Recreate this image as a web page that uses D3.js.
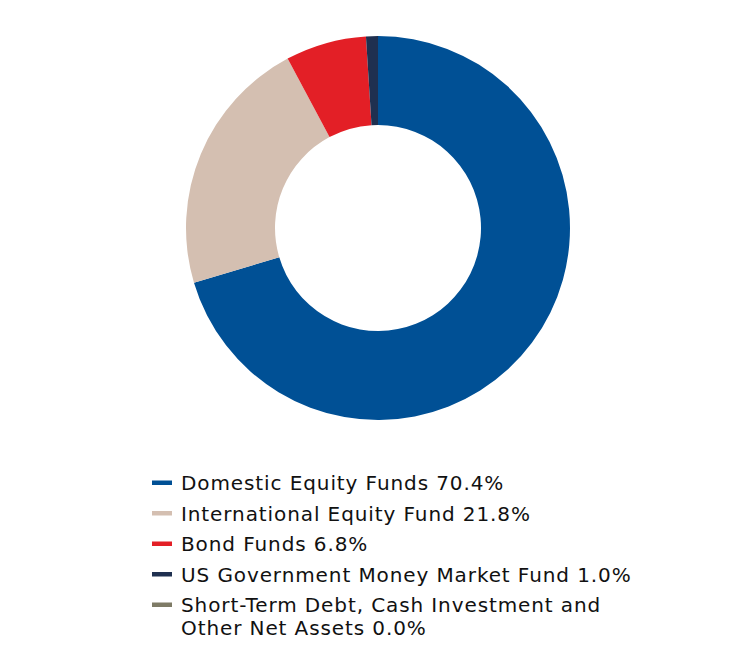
<!DOCTYPE html>
<html><head><meta charset="utf-8">
<script src="https://cdn.jsdelivr.net/npm/d3@7"></script>
<style>html,body{margin:0;padding:0;background:#fff;}</style>
</head><body>
<svg id="chart" width="756" height="648"></svg>
<script>
const categories = ["Domestic Equity Funds", "International Equity Fund", "Bond Funds", "US Government Money Market Fund", "Short-Term Debt, Cash Investment and Other Net Assets"];
const values = [70.4, 21.8, 6.8, 1.0, 0.0];
const labels = ["Domestic Equity Funds 70.4%", "International Equity Fund 21.8%", "Bond Funds 6.8%", "US Government Money Market Fund 1.0%", ["Short-Term Debt, Cash Investment and", "Other Net Assets 0.0%"]];
const colors = ["#005095", "#D4BFB1", "#E31F26", "#1F3050", "#7E7B66"];

const svg = d3.select("#chart");
const cx = 378, cy = 228, outerR = 192, innerR = 103;

const pie = d3.pie().sort(null).value(d => d)(values);
const arc = d3.arc().innerRadius(innerR).outerRadius(outerR);
const color = d3.scaleOrdinal().domain(categories).range(colors);

svg.append("g").attr("transform", `translate(${cx},${cy})`)
  .selectAll("path").data(pie).join("path")
  .attr("d", arc)
  .attr("fill", (d, i) => color(categories[i]));

const legend = svg.append("g").attr("transform", "translate(152,0)");
const baselines = [490, 520.5, 551, 581.5, 612];
categories.forEach((c, i) => {
  const g = legend.append("g");
  g.append("rect").attr("x", 0).attr("y", baselines[i] - 9.5).attr("width", 20).attr("height", 4.5).attr("fill", color(c));
  const t = g.append("text").attr("x", 29).attr("y", baselines[i])
    .attr("font-family", "DejaVu Sans, Verdana, sans-serif").attr("font-size", 20)
    .attr("letter-spacing", 0.9).attr("fill", "#111");
  const lab = labels[i];
  if (Array.isArray(lab)) {
    lab.forEach((l, j) => t.append("tspan").attr("x", 29).attr("dy", j === 0 ? 0 : 23).text(l));
  } else t.text(lab);
});
</script>
</body></html>
